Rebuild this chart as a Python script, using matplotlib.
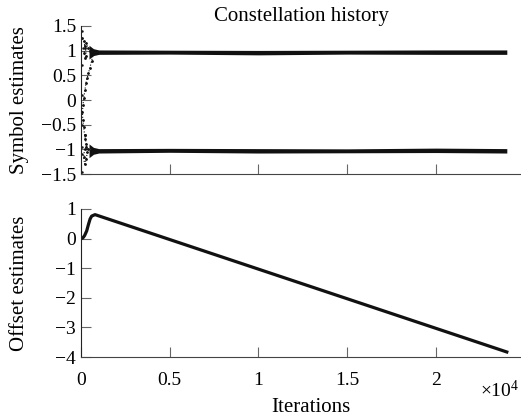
import numpy as np
import matplotlib
matplotlib.use('Agg')
import matplotlib.pyplot as plt
from matplotlib.ticker import FuncFormatter

plt.rcParams['font.family'] = ['Liberation Serif', 'DejaVu Serif']
plt.rcParams['mathtext.fontset'] = 'custom'
plt.rcParams['mathtext.rm'] = 'Liberation Serif'
plt.rcParams['mathtext.it'] = 'Liberation Serif:italic'

# 收敛后的两条符号带 (±1 附近)
band_x = [450, 700, 1000, 5000, 10000, 15000, 20000, 24000]
band_up = [0.97, 0.97, 0.97, 0.97, 0.96, 0.97, 0.97, 0.97]
band_lo = [-1.03, -1.03, -1.03, -1.02, -1.03, -1.03, -1.02, -1.03]
band_half = [0.14, 0.07, 0.045, 0.04, 0.045, 0.04, 0.045, 0.045]

# 初始瞬态轨迹
trA_x = [80, 150, 250, 300, 250, 180, 200, 300, 400, 500, 600]
trA_y = [1.25, 1.2, 1.05, 0.9, 0.85, 0.95, 1.1, 1.15, 1.05, 1.0, 0.98]
trB_x = [700, 600, 500, 420, 350, 280, 220, 160, 110, 80, 100, 150, 200]
trB_y = [0.95, 0.8, 0.65, 0.55, 0.45, 0.35, 0.2, 0.05, -0.1, -0.25, -0.4, -0.55, -0.7]
trC_x = [200, 250, 300, 350, 300, 200, 150, 200, 300, 400, 550, 700]
trC_y = [-0.7, -0.8, -0.9, -1.05, -1.2, -1.3, -1.15, -1.0, -0.95, -1.0, -1.02, -1.03]
dots_x = [40, 60, 50, 70, 40, 60, 90, 30]
dots_y = [1.4, 0.7, 0.1, -0.5, -1.1, -1.45, 1.05, -0.95]

# 偏移估计
off_x = [0, 100, 200, 320, 420, 510, 600, 790, 24000]
off_y = [0, 0.02, 0.1, 0.26, 0.48, 0.66, 0.76, 0.81, -3.83]

xticks = [0, 5000, 10000, 15000, 20000]

fig = plt.figure(figsize=(5.21, 4.16), dpi=100)
ax1 = fig.add_axes([0.1555, 0.5817, 0.8445, 0.3558])
ax2 = fig.add_axes([0.1555, 0.1418, 0.8445, 0.3558])

for ax in (ax1, ax2):
    ax.spines['top'].set_visible(False)
    ax.spines['right'].set_visible(False)
    ax.spines['left'].set_color('#222222')
    ax.spines['bottom'].set_color('#444444')
    ax.tick_params(direction='in', length=7, width=0.8, color='#666666',
                   labelsize=14, top=False, right=False)
    ax.tick_params(axis='x', pad=11)
    ax.set_xlim(0, 24800)
    ax.set_xticks(xticks)

# 上图
c = '#111111'
for yc in (band_up, band_lo):
    yc = np.array(yc)
    h = np.array(band_half)
    ax1.fill_between(band_x, yc - h, yc + h, color=c, lw=0)
for tx, ty in ((trA_x, trA_y), (trB_x, trB_y), (trC_x, trC_y)):
    ax1.plot(tx, ty, color=c, lw=0.8, ls=':', marker='.', ms=2)
ax1.plot(dots_x, dots_y, ls='none', marker='.', ms=1.5, color=c)
ax1.set_ylim(-1.5, 1.5)
ax1.set_yticks([-1.5, -1, -0.5, 0, 0.5, 1, 1.5])
ax1.set_yticklabels(['\u22121.5', '\u22121', '\u22120.5', '0', '0.5', '1', '1.5'])
ax1.tick_params(axis='x', labelbottom=False)
ax1.set_title('Constellation history', fontsize=15, pad=3)

# 下图
ax2.plot(off_x, off_y, color=c, lw=2.3)
ax2.set_ylim(-4, 1)
ax2.set_yticks([-4, -3, -2, -1, 0, 1])
ax2.set_yticklabels(['\u22124', '\u22123', '\u22122', '\u22121', '0', '1'])
ax2.xaxis.set_major_formatter(FuncFormatter(lambda v, p: '%g' % (v / 1e4)))

fig.text(20 / 521, 0.5817 + 0.3558 / 2, 'Symbol estimates', rotation=90,
         ha='center', va='center', fontsize=15)
fig.text(20 / 521, 0.1418 + 0.3558 / 2, 'Offset estimates', rotation=90,
         ha='center', va='center', fontsize=15)
fig.text(311 / 521, 1 - 407 / 416, 'Iterations', ha='center', va='center', fontsize=15)
fig.text(480 / 521, 1 - 390 / 416, '\u00d710$^{4}$', ha='left', va='center', fontsize=14)

fig.savefig('out.png', dpi=100)
